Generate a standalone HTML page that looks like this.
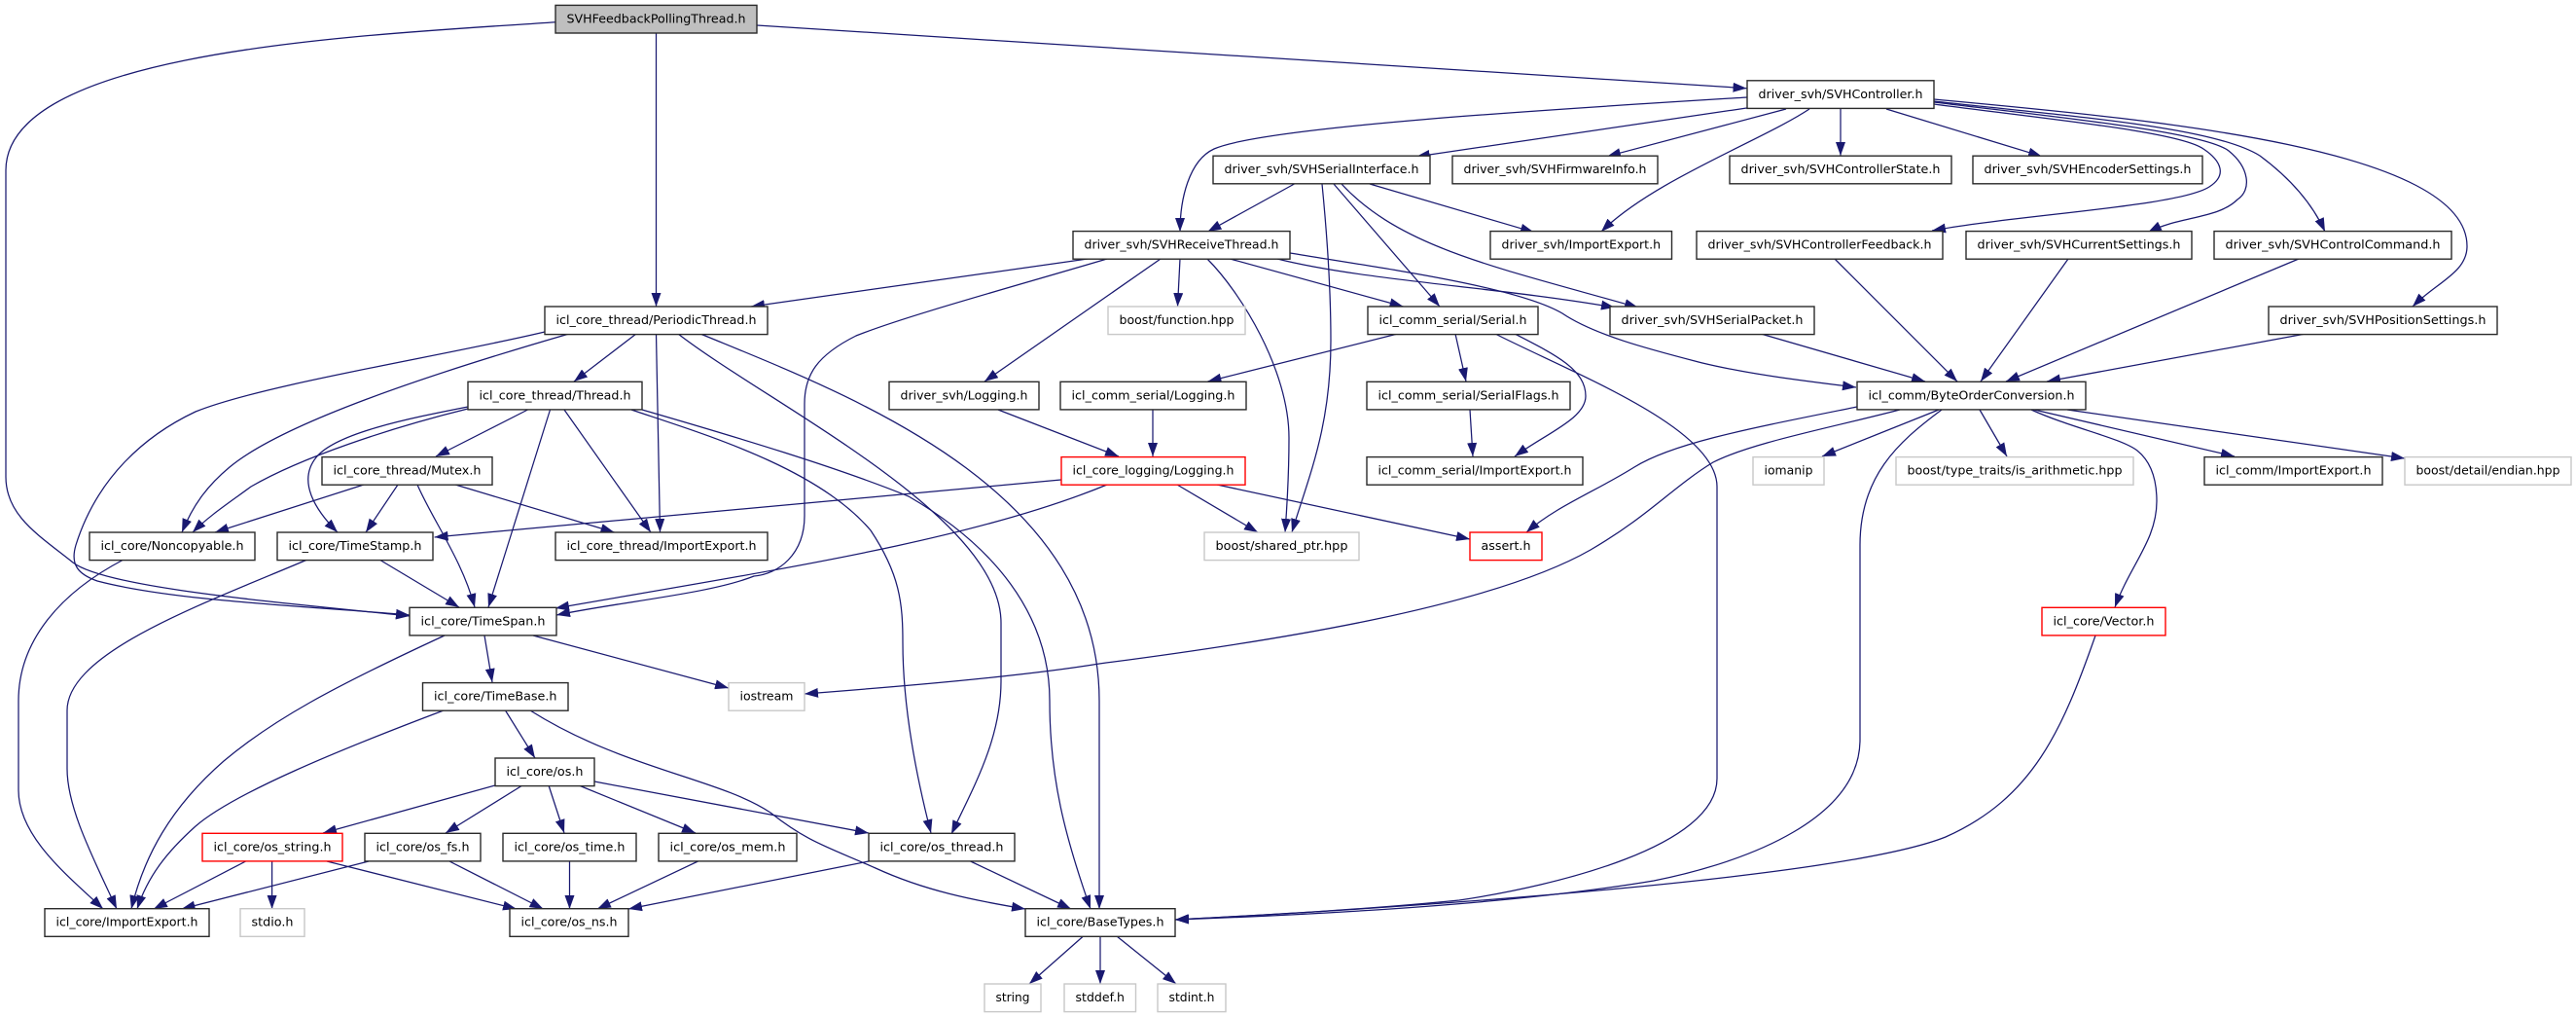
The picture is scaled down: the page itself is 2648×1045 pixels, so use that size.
<!DOCTYPE html>
<html><head><meta charset="utf-8"><style>
html,body{margin:0;padding:0;background:#fff}
svg{display:block}
.e path{fill:none;stroke:#191970;stroke-width:1.25;marker-end:url(#a)}
.n rect{fill:#fff;stroke:#2a2a2a;stroke-width:1.4}
.g rect{fill:#fff;stroke:#c8c8c8;stroke-width:1.4}
.r rect{fill:#fff;stroke:#f00;stroke-width:1.4}
text{font-family:"DejaVu Sans",sans-serif;font-size:12.8px;fill:#000}
</style></head><body>
<svg width="2648" height="1045" viewBox="0 0 2648 1045" xmlns="http://www.w3.org/2000/svg">
<defs><marker id="a" markerUnits="userSpaceOnUse" markerWidth="15" markerHeight="10" refX="14" refY="5" orient="auto"><path d="M0,0L14,5L0,10z" fill="#191970"/></marker></defs>
<g class="e">
<path d="M571,22.7C380,36 6,50 6,175L6,490C6,530 40,550 75,578C110,605 300,620 421,633"/>
<path d="M674.5,34L674.5,315"/>
<path d="M778,26L1795.5,90.7"/>
<path d="M1796,100C1600,112 1300,130 1248,153C1222,165 1213,205 1213,238"/>
<path d="M1795.5,111L1455.7,161"/>
<path d="M1836,112L1652,160.7"/>
<path d="M1860,112C1810,145 1700,185 1646,238"/>
<path d="M1892,111L1892,160"/>
<path d="M1939,112L2099,160.7"/>
<path d="M1988,107C2100,122 2240,135 2265,153C2283,165 2290,180 2271,192C2240,212 2080,220 1986,237"/>
<path d="M1988,105C2110,120 2265,135 2291,155C2312,172 2315,195 2300,205C2280,225 2240,222 2208,238.7"/>
<path d="M1988,104C2130,120 2275,130 2323,160C2350,180 2375,205 2390,238"/>
<path d="M1988,102C2200,122 2536,150 2536,253C2536,280 2505,290 2480,315"/>
<path d="M1330.5,189L1241.5,238"/>
<path d="M1359,189C1365,250 1368,300 1368,350C1368,440 1345,490 1328,547"/>
<path d="M1371,189L1480,315"/>
<path d="M1379,189C1440,255 1540,275 1684,316"/>
<path d="M1408,189L1577,238.7"/>
<path d="M1118,266L772,315"/>
<path d="M1138,266C1040,295 930,325 880,345C840,365 827,385 827,415L827,530C827,570 800,590 775,592C730,610 640,618 572,632"/>
<path d="M1138,498C1000,555 800,585 571,625"/>
<path d="M1193,266L1012,392"/>
<path d="M1213,266L1210.5,315"/>
<path d="M1241,266C1275,300 1325,380 1325,450C1325,490 1323,520 1321,547"/>
<path d="M1264.5,266L1442.5,315"/>
<path d="M1313,266C1400,288 1540,295 1660,316"/>
<path d="M1326,260C1430,277 1560,295 1606,322C1640,345 1700,360 1750,373C1800,385 1860,392 1908,398"/>
<path d="M654,343L590,392"/>
<path d="M585,343C440,385 290,435 236,480C212,500 198,520 187,547"/>
<path d="M560,341C460,365 270,395 201,423C150,447 100,490 78,560C72,580 80,590 100,597C180,618 320,623 421,632"/>
<path d="M674.5,343L678.5,547"/>
<path d="M697,343C790,415 1029,530 1029,640L1029,700C1029,760 1000,810 978,857"/>
<path d="M720,343C870,405 1130,500 1130,720L1130,934"/>
<path d="M660,421C760,450 860,480 934,510C1020,560 1079,630 1079,720C1079,800 1095,860 1121,934"/>
<path d="M649,421C720,445 840,480 895,545C925,590 928,620 928,660C928,720 940,790 957,856"/>
<path d="M542.5,421L448,469"/>
<path d="M481,420C400,440 310,470 258,500C235,517 215,530 198,547"/>
<path d="M481,418C420,430 345,445 325,470C305,495 325,525 347,547"/>
<path d="M565.5,421L502,624"/>
<path d="M580,421L669,547"/>
<path d="M374,498L221,547"/>
<path d="M409,498L376,547"/>
<path d="M429,498C445,535 475,575 488,624"/>
<path d="M468,498L631.5,547"/>
<path d="M127,575C60,610 19,660 19,720L19,812C19,860 70,900 106,934"/>
<path d="M390,575L472,624"/>
<path d="M316,575C210,620 69,670 69,730L69,790C69,830 95,880 120,934"/>
<path d="M498,653L506,701"/>
<path d="M548,653L749,707"/>
<path d="M457,653C340,707 280,740 230,782C175,830 148,880 135,934"/>
<path d="M456,730C350,770 240,815 201,849C172,875 152,900 141,934"/>
<path d="M519.5,730L550,779"/>
<path d="M545,730C640,790 740,800 792,835C830,865 850,870 900,892C950,915 1000,925 1054,934"/>
<path d="M509,807L332,856"/>
<path d="M537,807L458,856"/>
<path d="M564,807L580,856"/>
<path d="M595,807L715,856"/>
<path d="M611,803L893,856"/>
<path d="M252.6,885L158,934"/>
<path d="M279.6,885L279.6,934"/>
<path d="M336,885L531,934"/>
<path d="M379,885L186.6,934"/>
<path d="M462,885L558.5,934"/>
<path d="M585.5,885L585.5,934"/>
<path d="M717.5,885L614,934"/>
<path d="M893,885L646,934"/>
<path d="M997.6,885L1101,934"/>
<path d="M1113.5,962L1058,1011"/>
<path d="M1131,962L1131,1011"/>
<path d="M1148,962L1209,1011"/>
<path d="M1436.7,343L1241.5,392"/>
<path d="M1496,343L1507,392"/>
<path d="M1557,343C1600,365 1630,380 1630,407C1630,430 1590,445 1557,469"/>
<path d="M1537,343C1620,385 1765,440 1765,500L1765,800C1765,870 1600,910 1500,925C1400,935 1300,940 1208,945"/>
<path d="M1909,418C1800,440 1720,455 1680,480C1640,505 1600,520 1569,547"/>
<path d="M1953,421C1880,440 1800,455 1761,475C1720,500 1695,530 1635,565C1530,625 1300,660 1130,682C1050,695 930,705 827,713"/>
<path d="M1993,421L1873,469"/>
<path d="M2088,421C2130,440 2180,450 2197,463C2212,475 2217,495 2217,515C2217,555 2190,580 2174,624"/>
<path d="M2035,421L2063,469"/>
<path d="M2091,421L2297,469"/>
<path d="M2125,421L2472,471"/>
<path d="M1996,421C1950,455 1912,490 1912,560L1912,760C1912,840 1800,885 1700,905C1550,930 1350,940 1208,945"/>
<path d="M2154,653C2120,750 2090,820 2000,860C1900,900 1500,930 1208,945"/>
<path d="M1886,266L2012,392"/>
<path d="M2126,266L2036,392"/>
<path d="M2363,266L2062,392"/>
<path d="M2370,343L2104,392"/>
<path d="M1810,343L1979,392"/>
<path d="M1090.6,493L446.6,552"/>
<path d="M1210,498L1293,547"/>
<path d="M1251,498L1511,554"/>
<path d="M1026,421L1150,469"/>
<path d="M1185,421L1185,469"/>
<path d="M1511,421L1514,469"/>
</g>
<g class="n">
<rect x="571" y="5.4" width="207" height="28.6" style="fill:#bfbfbf"/><text x="582.5" y="23.4" textLength="184" lengthAdjust="spacingAndGlyphs">SVHFeedbackPollingThread.h</text>
<rect x="1796" y="82.8" width="192" height="28.6"/><text x="1807.5" y="100.8" textLength="169" lengthAdjust="spacingAndGlyphs">driver_svh/SVHController.h</text>
<rect x="1247" y="160.2" width="223" height="28.6"/><text x="1258.5" y="178.2" textLength="200" lengthAdjust="spacingAndGlyphs">driver_svh/SVHSerialInterface.h</text>
<rect x="1493" y="160.2" width="211" height="28.6"/><text x="1504.5" y="178.2" textLength="188" lengthAdjust="spacingAndGlyphs">driver_svh/SVHFirmwareInfo.h</text>
<rect x="1778" y="160.2" width="228" height="28.6"/><text x="1789.5" y="178.2" textLength="205" lengthAdjust="spacingAndGlyphs">driver_svh/SVHControllerState.h</text>
<rect x="2028" y="160.2" width="236" height="28.6"/><text x="2039.5" y="178.2" textLength="213" lengthAdjust="spacingAndGlyphs">driver_svh/SVHEncoderSettings.h</text>
<rect x="1103" y="237.6" width="223" height="28.6"/><text x="1114.5" y="255.6" textLength="200" lengthAdjust="spacingAndGlyphs">driver_svh/SVHReceiveThread.h</text>
<rect x="1532" y="237.6" width="186.5" height="28.6"/><text x="1543.5" y="255.6" textLength="163.5" lengthAdjust="spacingAndGlyphs">driver_svh/ImportExport.h</text>
<rect x="1744" y="237.6" width="253" height="28.6"/><text x="1755.5" y="255.6" textLength="230" lengthAdjust="spacingAndGlyphs">driver_svh/SVHControllerFeedback.h</text>
<rect x="2021" y="237.6" width="232" height="28.6"/><text x="2032.5" y="255.6" textLength="209" lengthAdjust="spacingAndGlyphs">driver_svh/SVHCurrentSettings.h</text>
<rect x="2276" y="237.6" width="244" height="28.6"/><text x="2287.5" y="255.6" textLength="221" lengthAdjust="spacingAndGlyphs">driver_svh/SVHControlCommand.h</text>
<rect x="560" y="315" width="229" height="28.6"/><text x="571.5" y="333" textLength="206" lengthAdjust="spacingAndGlyphs">icl_core_thread/PeriodicThread.h</text>
<rect x="1406" y="315" width="175" height="28.6"/><text x="1417.5" y="333" textLength="152" lengthAdjust="spacingAndGlyphs">icl_comm_serial/Serial.h</text>
<rect x="1655" y="315" width="210" height="28.6"/><text x="1666.5" y="333" textLength="187" lengthAdjust="spacingAndGlyphs">driver_svh/SVHSerialPacket.h</text>
<rect x="2332" y="315" width="235" height="28.6"/><text x="2343.5" y="333" textLength="212" lengthAdjust="spacingAndGlyphs">driver_svh/SVHPositionSettings.h</text>
<rect x="481" y="392.3" width="179" height="28.6"/><text x="492.5" y="410.3" textLength="156" lengthAdjust="spacingAndGlyphs">icl_core_thread/Thread.h</text>
<rect x="914" y="392.3" width="154" height="28.6"/><text x="925.5" y="410.3" textLength="131" lengthAdjust="spacingAndGlyphs">driver_svh/Logging.h</text>
<rect x="1090" y="392.3" width="191" height="28.6"/><text x="1101.5" y="410.3" textLength="168" lengthAdjust="spacingAndGlyphs">icl_comm_serial/Logging.h</text>
<rect x="1405" y="392.3" width="209" height="28.6"/><text x="1416.5" y="410.3" textLength="186" lengthAdjust="spacingAndGlyphs">icl_comm_serial/SerialFlags.h</text>
<rect x="1909" y="392.3" width="235" height="28.6"/><text x="1920.5" y="410.3" textLength="212" lengthAdjust="spacingAndGlyphs">icl_comm/ByteOrderConversion.h</text>
<rect x="331" y="469.6" width="175" height="28.6"/><text x="342.5" y="487.6" textLength="152" lengthAdjust="spacingAndGlyphs">icl_core_thread/Mutex.h</text>
<rect x="1405" y="469.6" width="222" height="28.6"/><text x="1416.5" y="487.6" textLength="199" lengthAdjust="spacingAndGlyphs">icl_comm_serial/ImportExport.h</text>
<rect x="2266" y="469.6" width="183" height="28.6"/><text x="2277.5" y="487.6" textLength="160" lengthAdjust="spacingAndGlyphs">icl_comm/ImportExport.h</text>
<rect x="92" y="547" width="170" height="28.6"/><text x="103.5" y="565" textLength="147" lengthAdjust="spacingAndGlyphs">icl_core/Noncopyable.h</text>
<rect x="285" y="547" width="160" height="28.6"/><text x="296.5" y="565" textLength="137" lengthAdjust="spacingAndGlyphs">icl_core/TimeStamp.h</text>
<rect x="571" y="547" width="218" height="28.6"/><text x="582.5" y="565" textLength="195" lengthAdjust="spacingAndGlyphs">icl_core_thread/ImportExport.h</text>
<rect x="421" y="624.3" width="151" height="28.6"/><text x="432.5" y="642.3" textLength="128" lengthAdjust="spacingAndGlyphs">icl_core/TimeSpan.h</text>
<rect x="434.5" y="701.6" width="149.5" height="28.6"/><text x="446" y="719.6" textLength="126.5" lengthAdjust="spacingAndGlyphs">icl_core/TimeBase.h</text>
<rect x="509" y="779" width="102" height="28.6"/><text x="520.5" y="797" textLength="79" lengthAdjust="spacingAndGlyphs">icl_core/os.h</text>
<rect x="375" y="856.3" width="119" height="28.6"/><text x="386.5" y="874.3" textLength="96" lengthAdjust="spacingAndGlyphs">icl_core/os_fs.h</text>
<rect x="517" y="856.3" width="137" height="28.6"/><text x="528.5" y="874.3" textLength="114" lengthAdjust="spacingAndGlyphs">icl_core/os_time.h</text>
<rect x="677" y="856.3" width="142" height="28.6"/><text x="688.5" y="874.3" textLength="119" lengthAdjust="spacingAndGlyphs">icl_core/os_mem.h</text>
<rect x="893" y="856.3" width="150" height="28.6"/><text x="904.5" y="874.3" textLength="127" lengthAdjust="spacingAndGlyphs">icl_core/os_thread.h</text>
<rect x="46" y="933.7" width="169" height="28.6"/><text x="57.5" y="951.7" textLength="146" lengthAdjust="spacingAndGlyphs">icl_core/ImportExport.h</text>
<rect x="524" y="933.7" width="122" height="28.6"/><text x="535.5" y="951.7" textLength="99" lengthAdjust="spacingAndGlyphs">icl_core/os_ns.h</text>
<rect x="1054" y="933.7" width="154" height="28.6"/><text x="1065.5" y="951.7" textLength="131" lengthAdjust="spacingAndGlyphs">icl_core/BaseTypes.h</text>
</g>
<g class="g">
<rect x="1139" y="315" width="141" height="28.6"/><text x="1150.5" y="333" textLength="118" lengthAdjust="spacingAndGlyphs">boost/function.hpp</text>
<rect x="1802" y="469.6" width="73" height="28.6"/><text x="1813.5" y="487.6" textLength="50" lengthAdjust="spacingAndGlyphs">iomanip</text>
<rect x="1949" y="469.6" width="244" height="28.6"/><text x="1960.5" y="487.6" textLength="221" lengthAdjust="spacingAndGlyphs">boost/type_traits/is_arithmetic.hpp</text>
<rect x="2472" y="469.6" width="171" height="28.6"/><text x="2483.5" y="487.6" textLength="148" lengthAdjust="spacingAndGlyphs">boost/detail/endian.hpp</text>
<rect x="1238" y="547" width="159" height="28.6"/><text x="1249.5" y="565" textLength="136" lengthAdjust="spacingAndGlyphs">boost/shared_ptr.hpp</text>
<rect x="749" y="701.6" width="78" height="28.6"/><text x="760.5" y="719.6" textLength="55" lengthAdjust="spacingAndGlyphs">iostream</text>
<rect x="247" y="933.7" width="66" height="28.6"/><text x="258.5" y="951.7" textLength="43" lengthAdjust="spacingAndGlyphs">stdio.h</text>
<rect x="1012" y="1011" width="58" height="28.6"/><text x="1023.5" y="1029" textLength="35" lengthAdjust="spacingAndGlyphs">string</text>
<rect x="1094" y="1011" width="73.5" height="28.6"/><text x="1105.5" y="1029" textLength="50.5" lengthAdjust="spacingAndGlyphs">stddef.h</text>
<rect x="1190" y="1011" width="70" height="28.6"/><text x="1201.5" y="1029" textLength="47" lengthAdjust="spacingAndGlyphs">stdint.h</text>
</g>
<g class="r">
<rect x="1091" y="469.6" width="189" height="28.6"/><text x="1102.5" y="487.6" textLength="166" lengthAdjust="spacingAndGlyphs">icl_core_logging/Logging.h</text>
<rect x="1511" y="547" width="74" height="28.6"/><text x="1522.5" y="565" textLength="51" lengthAdjust="spacingAndGlyphs">assert.h</text>
<rect x="2099" y="624.3" width="127" height="28.6"/><text x="2110.5" y="642.3" textLength="104" lengthAdjust="spacingAndGlyphs">icl_core/Vector.h</text>
<rect x="208" y="856.3" width="144" height="28.6"/><text x="219.5" y="874.3" textLength="121" lengthAdjust="spacingAndGlyphs">icl_core/os_string.h</text>
</g>
</svg>
</body></html>
